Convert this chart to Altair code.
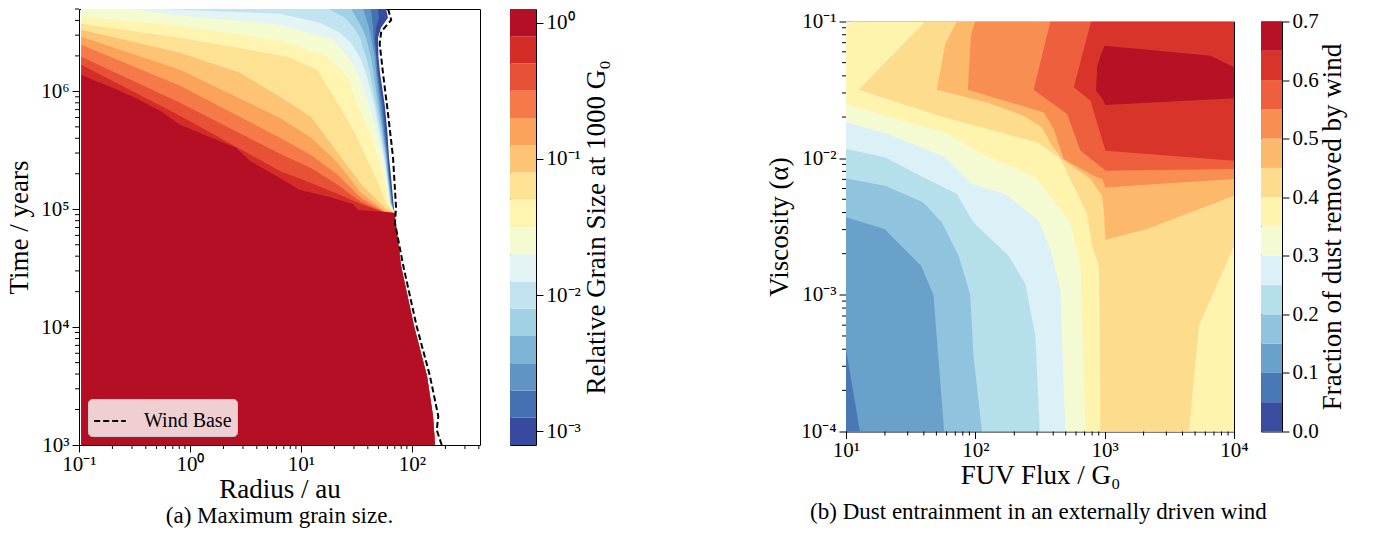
import altair as alt
import pandas as pd

FONT = "Liberation Serif"

# ---------------- Panel (a): maximum grain size ----------------
# Contour boundaries: [log10(time / yr), log10(radius / au)], top to bottom.
A_RMIN_LOG = -0.98
A_EDGE = [[6.702, 1.766], [6.625, 1.784], [6.540, 1.721], [6.455, 1.694], [6.294, 1.698],
          [6.158, 1.712], [5.869, 1.757], [5.648, 1.779], [5.444, 1.793], [5.309, 1.808],
          [5.054, 1.833], [4.969, 1.842], [4.518, 1.901], [4.008, 2.018], [3.584, 2.135],
          [3.244, 2.189], [3.125, 2.198], [3.000, 2.207]]
A_B1 = [[6.702, 1.694], [6.625, 1.703], [6.540, 1.676], [6.455, 1.667], [6.294, 1.680], [6.158, 1.694],
        [5.869, 1.739], [5.648, 1.761], [5.444, 1.784], [5.309, 1.793], [5.054, 1.824]]
A_B2 = [[6.702, 1.631], [6.540, 1.649], [6.455, 1.653], [6.294, 1.676], [6.158, 1.685], [5.869, 1.725],
        [5.648, 1.752], [5.444, 1.777], [5.309, 1.788], [5.054, 1.820]]
A_B3 = [[6.702, 1.559], [6.540, 1.613], [6.455, 1.631], [6.294, 1.664], [6.158, 1.676], [5.869, 1.712],
        [5.648, 1.743], [5.444, 1.772], [5.309, 1.784], [5.054, 1.815]]
A_B4 = [[6.702, 1.450], [6.540, 1.550], [6.455, 1.586], [6.294, 1.631], [6.158, 1.653], [5.869, 1.698],
        [5.648, 1.734], [5.444, 1.766], [5.309, 1.779], [5.054, 1.811]]
A_B5 = [[6.702, 1.243], [6.625, 1.396], [6.540, 1.477], [6.455, 1.532], [6.294, 1.586], [6.158, 1.622],
        [5.869, 1.680], [5.648, 1.721], [5.444, 1.757], [5.309, 1.775], [5.054, 1.806]]
A_B6 = [[6.702, -0.360], [6.693, -0.090], [6.659, 0.811], [6.583, 1.171], [6.498, 1.351], [6.413, 1.450],
        [6.294, 1.529], [6.158, 1.586], [5.869, 1.664], [5.648, 1.707], [5.444, 1.748], [5.309, 1.770],
        [5.054, 1.802]]
A_B7 = [[6.702, -0.559], [6.642, -0.090], [6.566, 0.811], [6.438, 1.288], [6.294, 1.423], [6.158, 1.514],
        [5.869, 1.619], [5.648, 1.685], [5.444, 1.739], [5.309, 1.761], [5.054, 1.797]]
A_B8 = [[6.702, -0.98], [6.634, -0.98], [6.557, -0.090], [6.430, 0.811], [6.294, 1.243], [6.115, 1.423],
        [5.869, 1.514], [5.648, 1.622], [5.444, 1.694], [5.266, 1.748], [5.054, 1.793]]
A_B9 = [[6.702, -0.98], [6.574, -0.98], [6.455, -0.090], [6.294, 0.883], [6.183, 1.144], [5.869, 1.351],
        [5.648, 1.486], [5.444, 1.586], [5.249, 1.685], [5.054, 1.766]]
A_B10 = [[6.702, -0.98], [6.523, -0.98], [6.328, -0.090], [6.158, 0.450], [5.954, 0.811], [5.784, 1.090],
         [5.478, 1.333], [5.215, 1.541], [5.011, 1.757]]
A_B11 = [[6.702, -0.98], [6.464, -0.98], [6.183, -0.090], [5.775, 0.811], [5.606, 1.090], [5.393, 1.333],
         [5.138, 1.541], [4.986, 1.757]]
A_B12 = [[6.702, -0.98], [6.396, -0.98], [6.048, -0.090], [5.606, 0.811], [5.461, 1.090], [5.291, 1.333],
         [5.096, 1.541], [4.977, 1.757]]
A_B13 = [[6.702, -0.98], [6.294, -0.98], [5.903, -0.090], [5.470, 0.811], [5.351, 1.090], [5.206, 1.333],
         [5.062, 1.541], [4.973, 1.757]]
A_B14 = [[6.702, -0.98], [6.226, -0.98], [5.793, -0.090], [5.325, 0.811], [5.223, 1.090], [5.129, 1.333],
         [5.045, 1.541], [4.971, 1.757]]
A_B15 = [[6.702, -0.98], [6.141, -0.98], [6.090, -0.856], [6.022, -0.676], [5.946, -0.495], [5.835, -0.270],
         [5.716, -0.090], [5.648, 0.090], [5.521, 0.414], [5.410, 0.541], [5.266, 0.811], [5.163, 0.991],
         [5.103, 1.261], [5.045, 1.468], [4.994, 1.514], [4.977, 1.766]]
A_WIND = [[6.702, 1.784], [6.606, 1.813], [6.506, 1.723], [6.407, 1.709], [6.152, 1.739], [5.812, 1.784],
          [5.444, 1.829], [5.020, 1.856], [4.884, 1.847], [4.518, 1.922], [4.008, 2.042], [3.584, 2.162],
          [3.244, 2.237], [3.127, 2.223], [3.000, 2.268]]
A_LEVEL_EXP = [-3.1, -2.9, -2.7, -2.5, -2.3, -2.1, -1.9, -1.7, -1.5, -1.3, -1.1, -0.9, -0.7, -0.5,
               -0.3, -0.1, 0.1]
A_XMAJOR = [0.1, 1, 10, 100]
A_YMAJOR = [1e3, 1e4, 1e5, 1e6]
A_XMINOR = [0.2, 0.3, 0.4, 0.5, 0.6, 0.7, 0.8, 0.9, 2, 3, 4, 5, 6, 7, 8, 9,
            20, 30, 40, 50, 60, 70, 80, 90, 200, 300, 400]
A_YMINOR = [2e3, 3e3, 4e3, 5e3, 6e3, 7e3, 8e3, 9e3, 2e4, 3e4, 4e4, 5e4, 6e4, 7e4, 8e4, 9e4,
            2e5, 3e5, 4e5, 5e5, 6e5, 7e5, 8e5, 9e5, 2e6, 3e6, 4e6, 5e6]

# ---------------- Panel (b): dust entrainment ----------------
# For each threshold (>= level), rows [log10(alpha), log10(F_lo), log10(F_hi)] of the region.
B_K1 = [[-1.0, 1.0, 4.0], [-4.0, 1.0, 4.0]]
B_K2 = [[-1.0, 1.0, 4.0], [-3.397, 1.0, 4.0], [-4.0, 1.108, 4.0]]
B_K3 = [[-1.0, 1.0, 4.0], [-2.433, 1.0, 4.0], [-2.519, 1.297, 4.0], [-2.787, 1.581, 4.0],
        [-3.0, 1.676, 4.0], [-4.0, 1.759, 4.0]]
B_K4 = [[-1.0, 1.0, 4.0], [-2.148, 1.0, 4.0], [-2.202, 1.302, 4.0], [-2.324, 1.599, 4.0],
        [-2.470, 1.741, 4.0], [-2.714, 1.870, 4.0], [-2.995, 1.960, 4.0], [-3.446, 1.986, 4.0],
        [-4.0, 2.051, 4.0]]
B_K5 = [[-1.0, 1.0, 4.0], [-1.933, 1.0, 4.0], [-1.994, 1.302, 4.0], [-2.128, 1.573, 4.0],
        [-2.263, 1.857, 4.0], [-2.470, 1.986, 4.0], [-2.714, 2.257, 4.0], [-2.921, 2.387, 4.0],
        [-3.300, 2.464, 4.0], [-4.0, 2.498, 4.0]]
B_K6 = [[-1.0, 1.0, 4.0], [-1.738, 1.0, 4.0], [-1.823, 1.328, 4.0], [-1.994, 1.767, 4.0],
        [-2.189, 1.973, 4.0], [-2.263, 2.232, 4.0], [-2.458, 2.490, 4.0], [-2.665, 2.580, 4.0],
        [-2.958, 2.658, 4.0], [-4.0, 2.696, 4.0]]
B_K7 = [[-1.0, 1.057, 4.0], [-1.042, 1.0, 4.0], [-1.604, 1.0, 4.0], [-1.689, 1.302, 4.0],
        [-1.823, 1.793, 4.0], [-1.970, 2.051, 4.0], [-2.141, 2.464, 4.0], [-2.470, 2.735, 4.0],
        [-2.787, 2.813, 4.0], [-4.0, 2.851, 4.0]]
B_K8 = [[-1.0, 1.612, 4.0], [-1.499, 1.096, 4.0], [-1.689, 1.715, 4.0], [-1.884, 2.477, 4.0],
        [-2.006, 2.658, 4.0], [-2.409, 2.864, 4.0], [-2.641, 2.903, 4.0], [-2.787, 2.955, 3.933],
        [-3.226, 2.962, 3.729], [-4.0, 2.967, 3.652]]
B_K9 = [[-1.0, 1.857, 4.0], [-1.164, 1.767, 4.0], [-1.499, 1.702, 4.0], [-1.592, 2.090, 4.0],
        [-1.689, 2.374, 4.0], [-1.775, 2.516, 4.0], [-1.909, 2.593, 4.0], [-2.006, 2.671, 4.0],
        [-2.153, 2.890, 4.0], [-2.275, 2.980, 4.0], [-2.385, 2.993, 3.698], [-2.519, 3.001, 3.329],
        [-2.597, 3.006, 3.006]]
B_K10 = [[-1.0, 1.999, 4.0], [-1.103, 1.966, 4.0], [-1.499, 1.942, 4.0], [-1.665, 2.529, 4.0],
         [-1.787, 2.606, 4.0], [-2.006, 2.683, 4.0], [-2.128, 2.916, 4.0], [-2.153, 2.980, 4.0],
         [-2.214, 3.006, 3.006]]
B_K11 = [[-1.0, 2.580, 4.0], [-1.499, 2.451, 4.0], [-1.677, 2.709, 4.0], [-1.945, 2.813, 4.0],
         [-2.080, 2.993, 4.0], [-2.092, 3.006, 3.006]]
B_K12 = [[-1.0, 2.895, 4.0], [-1.482, 2.761, 4.0], [-1.579, 2.890, 4.0], [-1.945, 3.006, 4.0],
         [-2.019, 4.0, 4.0]]
B_K13 = [[-1.177, 3.001, 3.001], [-1.250, 2.967, 3.820], [-1.335, 2.942, 4.0], [-1.506, 2.934, 4.0],
         [-1.562, 2.980, 4.0], [-1.611, 3.006, 3.006]]
B_LEVELS = [0.0, 0.05, 0.10, 0.15, 0.20, 0.25, 0.30, 0.35, 0.40, 0.45, 0.50, 0.55, 0.60, 0.65, 0.70]
B_XMAJOR = [10, 100, 1000, 10000]
B_YMAJOR = [1e-4, 1e-3, 1e-2, 1e-1]
B_XMINOR = [20, 30, 40, 50, 60, 70, 80, 90, 200, 300, 400, 500, 600, 700, 800, 900,
            2000, 3000, 4000, 5000, 6000, 7000, 8000, 9000]
B_YMINOR = [2e-4, 3e-4, 4e-4, 5e-4, 6e-4, 7e-4, 8e-4, 9e-4, 2e-3, 3e-3, 4e-3, 5e-3, 6e-3, 7e-3,
            8e-3, 9e-3, 2e-2, 3e-2, 4e-2, 5e-2, 6e-2, 7e-2, 8e-2, 9e-2]

# ---------------- styling helpers ----------------
RDYLBU = ["#a50026", "#d73027", "#f46d43", "#fdae61", "#fee090", "#ffffbf",
          "#e0f3f8", "#abd9e9", "#74add1", "#4575b4", "#313695"]


def cmap_r(v):
    u = (1 - v) * 10
    i = min(int(u), 9)
    f = u - i
    c0, c1 = RDYLBU[i], RDYLBU[i + 1]
    rgb = [round(int(c0[k:k + 2], 16) * (1 - f) + int(c1[k:k + 2], 16) * f) for k in (1, 3, 5)]
    return "#%02x%02x%02x" % tuple(rgb)


NA = len(A_LEVEL_EXP) - 1
NB = len(B_LEVELS) - 1
A_COLORS = [cmap_r((j + 0.5) / NA) for j in range(NA)]
B_COLORS = [cmap_r((j + 0.5) / NB) for j in range(NB)]

SUP = {"-": "\u207b", "0": "\u2070", "1": "\u00b9", "2": "\u00b2", "3": "\u00b3", "4": "\u2074",
       "5": "\u2075", "6": "\u2076", "7": "\u2077", "8": "\u2078", "9": "\u2079"}


def pow_expr(exps):
    parts = []
    for e in sorted(exps):
        lab = "10" + "".join(SUP[c] for c in str(e))
        parts.append("datum.value < %.6g ? '%s' : " % (10 ** (e + 0.5), lab))
    return "".join(parts) + "''"


LABEL_FS = 21
TITLE_FS = 27
CAP_FS = 23
TICK = 7
MINOR = 4

WA, HA = 401, 436
WCA = 26
WB, HB = 388, 410
WCB = 21

XS_A = alt.Scale(type="log", domain=[0.1, 410], nice=False)
YS_A = alt.Scale(type="log", domain=[1e3, 5e6], nice=False)
XS_B = alt.Scale(type="log", domain=[10, 1e4], nice=False)
YS_B = alt.Scale(type="log", domain=[1e-4, 1e-1], nice=False)


def axis(values, exps, title, tpad, lpad=3, **kw):
    return alt.Axis(values=values, labelExpr=pow_expr(exps), title=title, tickSize=TICK,
                    labelPadding=lpad, titlePadding=tpad, labelFlush=False, labelOverlap=False, **kw)


AX_AX = axis(A_XMAJOR, [-1, 0, 1, 2], "Radius / au", 2, lpad=1)
AX_AY = axis(A_YMAJOR, [3, 4, 5, 6], "Time / years", 7)
AX_BX = axis(B_XMAJOR, [1, 2, 3, 4], "FUV Flux / G\u2080", 2, lpad=1)
AX_BY = axis(B_YMAJOR, [-4, -3, -2, -1], "Viscosity (\u03b1)", 7)

# ---------------- panel (a) ----------------
a_bounds = [A_EDGE, A_B1, A_B2, A_B3, A_B4, A_B5, A_B6, A_B7, A_B8, A_B9, A_B10,
            A_B11, A_B12, A_B13, A_B14, A_B15]
a_lower = [p for p in A_EDGE if p[0] <= 4.969 + 1e-9]

a_layers = []
for b, pts in enumerate(a_bounds):
    full = pts if b == 0 else pts + a_lower
    df = pd.DataFrame({"t": [10 ** p[0] for p in full], "r": [10 ** p[1] for p in full]})
    df["r0"] = 10 ** A_RMIN_LOG
    a_layers.append(
        alt.Chart(df).mark_area(orient="horizontal", color=A_COLORS[b], clip=True).encode(
            y=alt.Y("t:Q", scale=YS_A, axis=AX_AY),
            x=alt.X("r0:Q", scale=XS_A, axis=AX_AX),
            x2="r:Q",
        )
    )

wind_df = pd.DataFrame({"t": [10 ** p[0] for p in A_WIND], "r": [10 ** p[1] for p in A_WIND],
                        "series": "Wind Base"})
wind = alt.Chart(wind_df).mark_line(strokeDash=[6, 3], strokeWidth=2, clip=True).encode(
    x=alt.X("r:Q", scale=XS_A, axis=AX_AX),
    y=alt.Y("t:Q", scale=YS_A, axis=AX_AY),
    order="t:Q",
    color=alt.Color("series:N", scale=alt.Scale(range=["black"]),
                    legend=alt.Legend(title=None, orient="bottom-left", offset=9,
                                      fillColor="rgba(255,255,255,0.8)", strokeColor="#cccccc",
                                      cornerRadius=4, padding=5, labelFont=FONT, labelFontSize=20,
                                      labelColor="black", labelOffset=17, symbolType="stroke",
                                      symbolSize=1000, symbolStrokeWidth=2, symbolDash=[6, 3])),
)

a_xminor = alt.Chart(pd.DataFrame({"v": A_XMINOR})).mark_rule(color="black", strokeWidth=1).encode(
    x=alt.X("v:Q", scale=XS_A, axis=AX_AX), y=alt.value(HA), y2=alt.value(HA + MINOR))
a_yminor = alt.Chart(pd.DataFrame({"v": A_YMINOR})).mark_rule(color="black", strokeWidth=1).encode(
    y=alt.Y("v:Q", scale=YS_A, axis=AX_AY), x=alt.value(0), x2=alt.value(-MINOR))

panel_a = alt.layer(*a_layers, wind, a_xminor, a_yminor).properties(width=WA, height=HA)

cba_df = pd.DataFrame({"lo": [10 ** A_LEVEL_EXP[j] for j in range(NA)],
                       "hi": [10 ** A_LEVEL_EXP[j + 1] for j in range(NA)],
                       "c": A_COLORS})
cbar_a = alt.Chart(cba_df).mark_rect().encode(
    y=alt.Y("lo:Q", scale=alt.Scale(type="log", domain=[10 ** A_LEVEL_EXP[0], 10 ** A_LEVEL_EXP[-1]],
                                    nice=False),
            axis=axis([1e-3, 1e-2, 1e-1, 1], [-3, -2, -1, 0],
                      "Relative Grain Size at 1000 G\u2080", 3, orient="right", titleAngle=270,
                      titleBaseline="top")),
    y2="hi:Q",
    x=alt.value(0), x2=alt.value(WCA),
    fill=alt.Fill("c:N", scale=None),
).properties(width=WCA, height=HA)

# ---------------- panel (b) ----------------
b_sets = [B_K1, B_K2, B_K3, B_K4, B_K5, B_K6, B_K7, B_K8, B_K9, B_K10, B_K11, B_K12, B_K13]
b_layers = []
for k, rows in enumerate(b_sets, start=1):
    df = pd.DataFrame({"a": [10 ** r[0] for r in rows], "lo": [10 ** r[1] for r in rows],
                       "hi": [10 ** r[2] for r in rows]})
    b_layers.append(
        alt.Chart(df).mark_area(orient="horizontal", color=B_COLORS[k], clip=True).encode(
            y=alt.Y("a:Q", scale=YS_B, axis=AX_BY),
            x=alt.X("lo:Q", scale=XS_B, axis=AX_BX),
            x2="hi:Q",
        )
    )

b_xminor = alt.Chart(pd.DataFrame({"v": B_XMINOR})).mark_rule(color="black", strokeWidth=1).encode(
    x=alt.X("v:Q", scale=XS_B, axis=AX_BX), y=alt.value(HB), y2=alt.value(HB + MINOR))
b_yminor = alt.Chart(pd.DataFrame({"v": B_YMINOR})).mark_rule(color="black", strokeWidth=1).encode(
    y=alt.Y("v:Q", scale=YS_B, axis=AX_BY), x=alt.value(0), x2=alt.value(-MINOR))

panel_b = alt.layer(*b_layers, b_xminor, b_yminor).properties(width=WB, height=HB)

cbb_df = pd.DataFrame({"lo": B_LEVELS[:-1], "hi": B_LEVELS[1:], "c": B_COLORS})
cbar_b = alt.Chart(cbb_df).mark_rect().encode(
    y=alt.Y("lo:Q", scale=alt.Scale(domain=[B_LEVELS[0], B_LEVELS[-1]], nice=False, zero=False),
            axis=alt.Axis(values=[0.0, 0.1, 0.2, 0.3, 0.4, 0.5, 0.6, 0.7], format=".1f",
                          title="Fraction of dust removed by wind", orient="right", titleAngle=270,
                          titleBaseline="top", tickSize=TICK, labelPadding=3, titlePadding=1,
                          labelFlush=False, labelOverlap=False)),
    y2="hi:Q",
    x=alt.value(0), x2=alt.value(WCB),
    fill=alt.Fill("c:N", scale=None),
).properties(width=WCB, height=HB)

spacer = alt.Chart(pd.DataFrame({"v": [0]})).mark_point(opacity=0).encode(
    x=alt.value(0), y=alt.value(0)
).properties(width=10, height=1, view=alt.ViewBackground(strokeOpacity=0))

left = alt.hconcat(panel_a, cbar_a, spacing=28).resolve_legend(color="independent").properties(
    title=alt.TitleParams("(a) Maximum grain size.", orient="bottom", anchor="middle",
                          offset=2, dx=-28, fontSize=CAP_FS)
)
right = alt.vconcat(spacer, alt.hconcat(panel_b, cbar_b, spacing=11), spacing=-2.5).properties(
    title=alt.TitleParams("(b) Dust entrainment in an externally driven wind", orient="bottom",
                          anchor="middle", offset=12, dx=-17, fontSize=CAP_FS)
)

chart = alt.hconcat(left, right, spacing=155).resolve_legend(
    color="independent"
).resolve_scale(color="independent").properties(
    padding={"left": 5, "top": 6, "right": 5, "bottom": 5}
).configure_axis(
    labelFont=FONT, titleFont=FONT, labelFontSize=LABEL_FS, titleFontSize=TITLE_FS,
    labelColor="black", titleColor="black", tickColor="black", tickWidth=1,
    titleFontWeight="normal", domain=False, grid=False,
).configure_view(stroke="black", strokeWidth=1).configure_title(
    font=FONT, fontWeight="normal", color="black"
).configure_legend(labelFont=FONT)

chart.save("out.html", embed_options={"renderer": "svg", "actions": False})
